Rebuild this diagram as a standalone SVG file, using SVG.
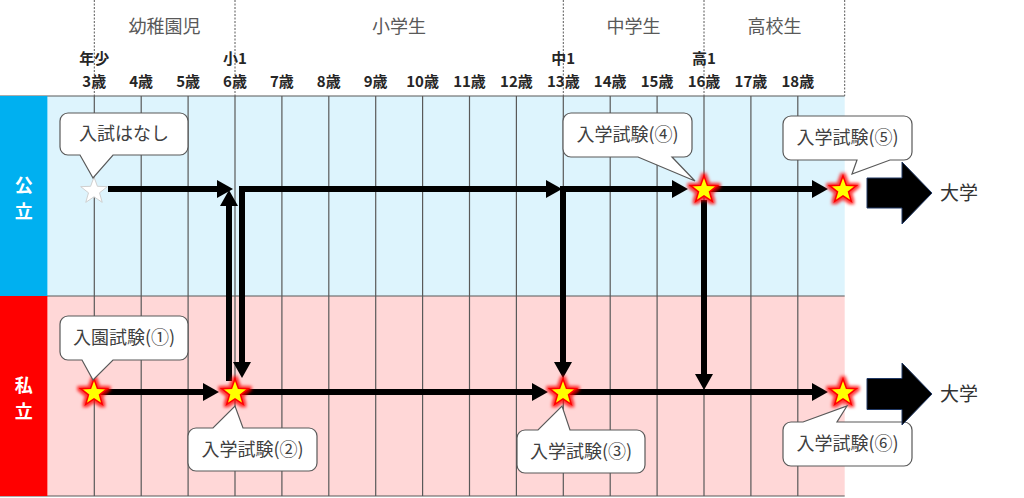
<svg xmlns="http://www.w3.org/2000/svg" width="1024" height="498" viewBox="0 0 1024 498">
<style>
text{font-family:"Noto Sans CJK JP","Noto Sans",sans-serif}
.hdr{font-size:18px;fill:#595959;text-anchor:middle}
.age{font-size:15px;font-weight:bold;fill:#262626;text-anchor:middle}
.band{font-size:18px;font-weight:bold;fill:#fff;text-anchor:middle}
.co{fill:#fff;stroke:#595959;stroke-width:1.2}
.cot{font-size:18px;fill:#404040;text-anchor:middle}
.grid{stroke:#595959;stroke-width:1.2}
.dash{stroke:#595959;stroke-width:1;stroke-dasharray:2,1.5}
.ln{stroke:#000;stroke-width:6;fill:none;marker-end:url(#ah)}
.ys{fill:#FFFF00;stroke:#FF0000;stroke-width:1.5;filter:url(#glow)}
.ws{fill:#fff;stroke:#d0d0d0;stroke-width:1}
.blk{fill:#000;stroke:#203864;stroke-width:1}
.uni{font-size:19px;fill:#333}
</style>
<defs>
<marker id="ah" markerUnits="userSpaceOnUse" markerWidth="16" markerHeight="18" refX="0" refY="9" orient="auto" viewBox="0 0 16 18"><path d="M0,0 L16,9 L0,18 Z" fill="#000"/></marker>
<path id="star" d="M0,-14 L3.4,-4.7 L13.31,-4.33 L5.5,1.8 L8.23,11.33 L0,5.8 L-8.23,11.33 L-5.5,1.8 L-13.31,-4.33 L-3.4,-4.7 Z"/>
<filter id="glow" x="-60%" y="-60%" width="220%" height="220%">
<feMorphology in="SourceAlpha" operator="dilate" radius="1.5" result="d"/>
<feGaussianBlur in="d" stdDeviation="1.6" result="b"/>
<feFlood flood-color="#ff0000" flood-opacity="0.75"/>
<feComposite in2="b" operator="in" result="g"/>
<feMerge><feMergeNode in="g"/><feMergeNode in="SourceGraphic"/></feMerge>
</filter>
</defs>

<g id="background">
<rect x="0" y="0" width="1024" height="498" fill="#fff"/>
<rect x="47.4" y="96" width="797.3" height="200" fill="#DDF4FD"/>
<rect x="47.4" y="296" width="797.3" height="200" fill="#FFD7D7"/>
</g>

<g id="header">
<g class="dash">
<line x1="94.3" y1="0" x2="94.3" y2="96"/>
<line x1="235" y1="0" x2="235" y2="96"/>
<line x1="563.3" y1="0" x2="563.3" y2="96"/>
<line x1="704" y1="0" x2="704" y2="96"/>
<line x1="844.7" y1="0" x2="844.7" y2="96"/>
</g>
<text class="hdr" x="164.6" y="33">幼稚園児</text>
<text class="hdr" x="399" y="33">小学生</text>
<text class="hdr" x="633.6" y="33">中学生</text>
<text class="hdr" x="774.4" y="33">高校生</text>
<text class="age" x="94.3" y="64">年少</text>
<text class="age" x="235" y="64">小1</text>
<text class="age" x="563.3" y="64">中1</text>
<text class="age" x="704" y="64">高1</text>
<text class="age" x="94.3" y="87">3歳</text>
<text class="age" x="141.2" y="87">4歳</text>
<text class="age" x="188.1" y="87">5歳</text>
<text class="age" x="235" y="87">6歳</text>
<text class="age" x="281.9" y="87">7歳</text>
<text class="age" x="328.8" y="87">8歳</text>
<text class="age" x="375.7" y="87">9歳</text>
<text class="age" x="422.6" y="87">10歳</text>
<text class="age" x="469.5" y="87">11歳</text>
<text class="age" x="516.4" y="87">12歳</text>
<text class="age" x="563.3" y="87">13歳</text>
<text class="age" x="610.2" y="87">14歳</text>
<text class="age" x="657.1" y="87">15歳</text>
<text class="age" x="704" y="87">16歳</text>
<text class="age" x="750.9" y="87">17歳</text>
<text class="age" x="797.8" y="87">18歳</text>
</g>

<g id="grid" class="grid">
<line x1="94.3" y1="96" x2="94.3" y2="496"/>
<line x1="141.2" y1="96" x2="141.2" y2="496"/>
<line x1="188.1" y1="96" x2="188.1" y2="496"/>
<line x1="235" y1="96" x2="235" y2="496"/>
<line x1="281.9" y1="96" x2="281.9" y2="496"/>
<line x1="328.8" y1="96" x2="328.8" y2="496"/>
<line x1="375.7" y1="96" x2="375.7" y2="496"/>
<line x1="422.6" y1="96" x2="422.6" y2="496"/>
<line x1="469.5" y1="96" x2="469.5" y2="496"/>
<line x1="516.4" y1="96" x2="516.4" y2="496"/>
<line x1="563.3" y1="96" x2="563.3" y2="496"/>
<line x1="610.2" y1="96" x2="610.2" y2="496"/>
<line x1="657.1" y1="96" x2="657.1" y2="496"/>
<line x1="704" y1="96" x2="704" y2="496"/>
<line x1="750.9" y1="96" x2="750.9" y2="496"/>
<line x1="797.8" y1="96" x2="797.8" y2="496"/>
<line x1="0" y1="96" x2="844.7" y2="96"/>
<line x1="0" y1="296" x2="844.7" y2="296"/>
<line x1="0" y1="496" x2="844.7" y2="496"/>
</g>

<g id="band-public">
<rect x="0" y="96" width="47.4" height="200" fill="#00B0F0"/>
<text class="band" x="23.7" y="192">公</text>
<text class="band" x="23.7" y="218">立</text>
</g>
<g id="band-private">
<rect x="0" y="296" width="47.4" height="200" fill="#FF0000"/>
<text class="band" x="23.7" y="392">私</text>
<text class="band" x="23.7" y="418">立</text>
</g>

<g id="connectors">
<line class="ln" x1="108" y1="189" x2="217" y2="189"/>
<line class="ln" x1="229" y1="381" x2="229" y2="206"/>
<line class="ln" x1="239" y1="189" x2="546" y2="189"/>
<line class="ln" x1="242" y1="186" x2="242" y2="362"/>
<line class="ln" x1="563" y1="189" x2="672" y2="189"/>
<line class="ln" x1="563" y1="186" x2="563" y2="362"/>
<line class="ln" x1="704" y1="189" x2="812" y2="189"/>
<line class="ln" x1="704" y1="200" x2="704" y2="374"/>
<line class="ln" x1="94" y1="392" x2="203" y2="392"/>
<line class="ln" x1="235" y1="392" x2="532" y2="392"/>
<line class="ln" x1="563" y1="392" x2="812" y2="392"/>
</g>

<g id="star-public-3">
<use href="#star" class="ws" x="94" y="191"/>
</g>
<g id="star-public-16">
<use href="#star" class="ys" x="704" y="190"/>
</g>
<g id="star-public-18">
<use href="#star" class="ys" x="843" y="190"/>
</g>
<g id="star-private-3">
<use href="#star" class="ys" x="94" y="393"/>
</g>
<g id="star-private-6">
<use href="#star" class="ys" x="235" y="393"/>
</g>
<g id="star-private-13">
<use href="#star" class="ys" x="563" y="393"/>
</g>
<g id="star-private-18">
<use href="#star" class="ys" x="843" y="393"/>
</g>

<g id="callout-none">
<path class="co" d="M68,113 H180 A8,8 0 0 1 188,121 V147 A8,8 0 0 1 180,155 H113 L93,178 L80,155 H68 A8,8 0 0 1 60,147 V121 A8,8 0 0 1 68,113 Z"/>
<text class="cot" x="124" y="140">入試はなし</text>
</g>
<g id="callout-1">
<path class="co" d="M68,316 H180 A8,8 0 0 1 188,324 V352 A8,8 0 0 1 180,360 H113 L93,380 L82,360 H68 A8,8 0 0 1 60,352 V324 A8,8 0 0 1 68,316 Z"/>
<text class="cot" x="124" y="344">入園試験(①)</text>
</g>
<g id="callout-2">
<path class="co" d="M196,428 H213 L235,406 L243,428 H309 A8,8 0 0 1 317,436 V463 A8,8 0 0 1 309,471 H196 A8,8 0 0 1 188,463 V436 A8,8 0 0 1 196,428 Z"/>
<text class="cot" x="252.5" y="456">入学試験(②)</text>
</g>
<g id="callout-3">
<path class="co" d="M525,430 H538 L562,406 L570,430 H637 A8,8 0 0 1 645,438 V465 A8,8 0 0 1 637,473 H525 A8,8 0 0 1 517,465 V438 A8,8 0 0 1 525,430 Z"/>
<text class="cot" x="581" y="458">入学試験(③)</text>
</g>
<g id="callout-4">
<path class="co" d="M571,113 H684 A8,8 0 0 1 692,121 V149 A8,8 0 0 1 684,157 H672 L695,181 L638,157 H571 A8,8 0 0 1 563,149 V121 A8,8 0 0 1 571,113 Z"/>
<text class="cot" x="627.5" y="141">入学試験(④)</text>
</g>
<g id="callout-5">
<path class="co" d="M791,116 H904 A8,8 0 0 1 912,124 V152 A8,8 0 0 1 904,160 H890 L852,174 L857,160 H791 A8,8 0 0 1 783,152 V124 A8,8 0 0 1 791,116 Z"/>
<text class="cot" x="847.5" y="144">入学試験(⑤)</text>
</g>
<g id="callout-6">
<path class="co" d="M791,422 H803 L847,406 L837,422 H904 A8,8 0 0 1 912,430 V458 A8,8 0 0 1 904,466 H791 A8,8 0 0 1 783,458 V430 A8,8 0 0 1 791,422 Z"/>
<text class="cot" x="847.5" y="450">入学試験(⑥)</text>
</g>

<g id="university-public">
<polygon class="blk" points="867,178 902,178 902,162 932,193 902,224 902,208 867,208"/>
<text class="uni" x="940" y="200">大学</text>
</g>
<g id="university-private">
<polygon class="blk" points="867,378.5 902,378.5 902,363 932,394 902,425 902,409.5 867,409.5"/>
<text class="uni" x="940" y="401">大学</text>
</g>
</svg>
